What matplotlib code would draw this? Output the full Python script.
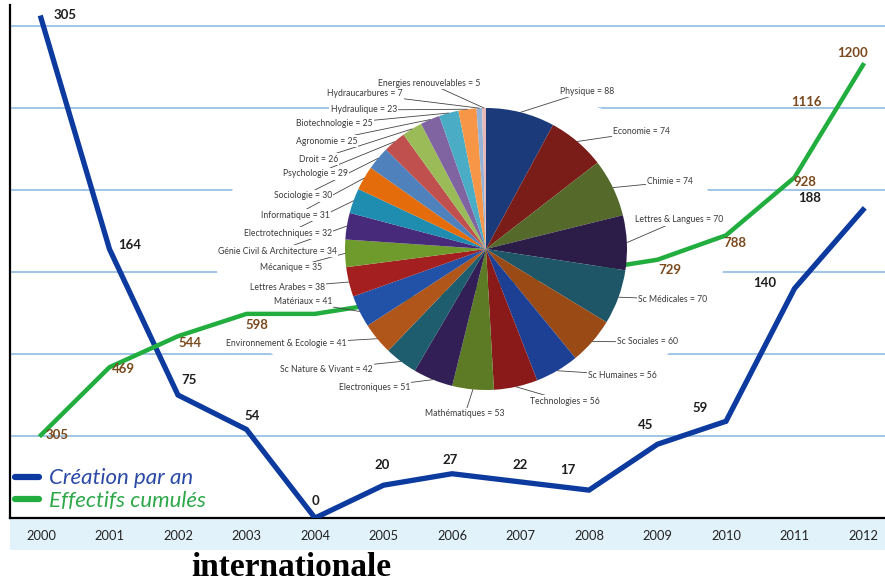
import numpy as np
import matplotlib.pyplot as plt
from matplotlib.lines import Line2D
from matplotlib.patches import Rectangle, Ellipse

# figure size in pixels, positions below are measured on the reference picture
W, H = 885, 587

years = list(range(2000, 2013))
creation = [305, 164, 75, 54, 0, 20, 27, 22, 17, 45, 59, 140, 188]

cumul_years = [2000, 2001, 2002, 2003, 2004, 2009, 2010, 2011, 2012]
cumul = [305, 469, 544, 598, 598, 729, 788, 928, 1200]
cumul_extra = 1116   # label sitting on the last segment

pie_fields = [
	"Physique", "Economie", "Chimie", "Lettres & Langues", "Sc Médicales",
	"Sc Sociales", "Sc Humaines", "Technologies", "Mathématiques", "Electroniques",
	"Sc Nature & Vivant", "Environnement & Ecologie", "Matériaux", "Lettres Arabes",
	"Mécanique", "Génie Civil & Architecture", "Electrotechniques", "Informatique",
	"Sociologie", "Psychologie", "Droit", "Agronomie", "Biotechnologie",
	"Hydraulique", "Hydraucarbures", "Energies renouvelables",
]
pie_counts = [88, 74, 74, 70, 70, 60, 56, 56, 53, 51, 42, 41, 41, 38, 35, 34, 32, 31,
			  30, 29, 26, 25, 25, 23, 7, 5]

# --- styles / layout ---
BLUE = "#0c3a9e"
GREEN = "#22ad3f"
BROWN = "#7a4a1e"
GRID = "#86b7df"

pie_colors = [
	"#1b3a7a", "#7a1c18", "#55692a", "#2b1d48", "#1e5668", "#9a4a14",
	"#1d3f94", "#8a1a1a", "#5d7b25", "#311f55", "#1e5d6e", "#b0561a",
	"#2252a8", "#a41f1f", "#6f9b2d", "#482a7a", "#1f8db0", "#e46c0a",
	"#4f81bd", "#c0504d", "#9bbb59", "#8064a2", "#4bacc6", "#f79646",
	"#95b3d7", "#e6b9b8",
]
# text anchor of every pie label (pixels) and alignment
pie_label_px = [
	(560, 91, "left"), (613, 132, "left"), (647, 182, "left"), (635, 220, "left"),
	(638, 299, "left"), (617, 342, "left"), (588, 375, "left"), (530, 401, "left"),
	(465, 414, "center"), (410, 387, "right"), (373, 369, "right"), (347, 344, "right"),
	(332, 302, "right"), (325, 287, "right"), (322, 268, "right"), (337, 251, "right"),
	(332, 233, "right"), (330, 215, "right"), (332, 196, "right"), (348, 174, "right"),
	(338, 159, "right"), (357, 141, "right"), (373, 124, "right"), (397, 110, "right"),
	(403, 94, "right"), (480, 83, "right"),
]
# label offsets in pixels (dx, dy up)
creation_off = [(24, 3), (20, 4), (11, 15), (6, 13), (0, 17), (-1, 20), (-2, 14),
				(0, 17), (-21, 20), (-12, 19), (-26, 13), (-30, 5), (-53, 12)]
cumul_off = [(16, 0), (14, -2), (12, -7), (10, -11), None, (12, -10), (9, -8),
			 (10, -5), (-10, 12)]

plt.rcParams["font.family"] = ["Lato", "DejaVu Sans"]

fig = plt.figure(figsize=(W / 100, H / 100), dpi=100)
fig.add_artist(Rectangle((10 / W, (H - 550) / H), 875 / W, 32 / H,
						 transform=fig.transFigure, fc="#e2f2fa", ec="none", zorder=-1))

# main axes : "Création par an"
ax = fig.add_axes([10 / W, (H - 518) / H, 875 / W, 513 / H])
ax.patch.set_alpha(0)
ax.set_xlim(2000 - 31 / 68.5, 2000 + 844 / 68.5)
ax.set_ylim(0, 513 / 1.6393)
ax.set_yticks([50, 100, 150, 200, 250, 300])
ax.yaxis.grid(True, color=GRID, lw=1.1)
ax.tick_params(axis="y", length=0, labelleft=False)
ax.set_xticks(years)
ax.set_xticklabels([str(y) for y in years])
ax.tick_params(axis="x", length=0, pad=9, labelsize=9.3, labelcolor="#222222")
for s in ["top", "right"]:
	ax.spines[s].set_visible(False)
ax.spines["left"].set_linewidth(1.6)
ax.spines["bottom"].set_linewidth(1.6)

# white area behind the pie, where the grid lines stop
ax.add_patch(Ellipse((0.5257, 0.5224), 0.583, 0.643, transform=ax.transAxes,
					 fc="white", ec="none", zorder=1.6))

ax.plot(years, creation, color=BLUE, lw=3.8, solid_joinstyle="miter", zorder=3)
for yr, v, (dx, dy) in zip(years, creation, creation_off):
	ax.annotate(str(v), (yr, v), xytext=(dx, dy), textcoords="offset pixels",
				ha="center", va="center", fontsize=9.5, fontweight="bold", color="#1e1e1e",
				zorder=4)

handles = [Line2D([], [], color=BLUE, lw=4.5, solid_capstyle="round"),
		   Line2D([], [], color=GREEN, lw=4.5, solid_capstyle="round")]
ax.legend(handles, ["Création par an", "Effectifs cumulés"], loc="lower left",
		  bbox_to_anchor=(5 / 875, 7 / 513), frameon=False,
		  prop=dict(family="Lato", style="italic", size=16),
		  handlelength=1.1, handletextpad=0.45, labelspacing=0.12,
		  borderpad=0, borderaxespad=0, labelcolor=["#2b4aa6", "#2ea84a"])

# second scale : "Effectifs cumulés"
ax2 = ax.twinx()
ax2.set_ylim(305 - 83 / 0.41341, 305 + 430 / 0.41341)
ax2.axis("off")
ax2.plot(cumul_years, cumul, color=GREEN, lw=3.2, zorder=3)
for yr, v, off in zip(cumul_years, cumul, cumul_off):
	if off is None:
		continue
	ax2.annotate(str(v), (yr, v), xytext=off, textcoords="offset pixels",
				 ha="center", va="center", fontsize=9.5, fontweight="bold", color=BROWN)
x_extra = np.interp(cumul_extra, cumul[-2:], cumul_years[-2:])
ax2.annotate(str(cumul_extra), (x_extra, cumul_extra), xytext=(-35, -2),
			 textcoords="offset pixels", ha="center", va="center",
			 fontsize=9.5, fontweight="bold", color=BROWN)

# pie of the fields
cx, cy, r = 486, 249, 141
axp = fig.add_axes([(cx - 150) / W, (H - cy - 150) / H, 300 / W, 300 / H])
wedges, _ = axp.pie(pie_counts, colors=pie_colors, startangle=90, counterclock=False,
					radius=1, wedgeprops=dict(linewidth=0))
lim = 150 / r
axp.set_xlim(-lim, lim)
axp.set_ylim(-lim, lim)
axp.axis("off")
for w, name, n, (lx, ly, ha) in zip(wedges, pie_fields, pie_counts, pie_label_px):
	a = np.deg2rad((w.theta1 + w.theta2) / 2)
	axp.annotate(f"{name} = {n}", xy=(np.cos(a), np.sin(a)),
				 xytext=((lx - cx) / r, (cy - ly) / r), ha=ha, va="center",
				 fontsize=6.2, color="#3a3a3a",
				 bbox=dict(boxstyle="square,pad=0.15", fc="white", ec="none"),
				 arrowprops=dict(arrowstyle="-", color="#444444", lw=0.6,
								 shrinkA=0, shrinkB=0))

fig.text(291 / W, 19 / H, "internationale", ha="center", va="center",
		 family="Liberation Serif", fontweight="bold", fontsize=24)

fig.savefig("out.png", dpi=100)
